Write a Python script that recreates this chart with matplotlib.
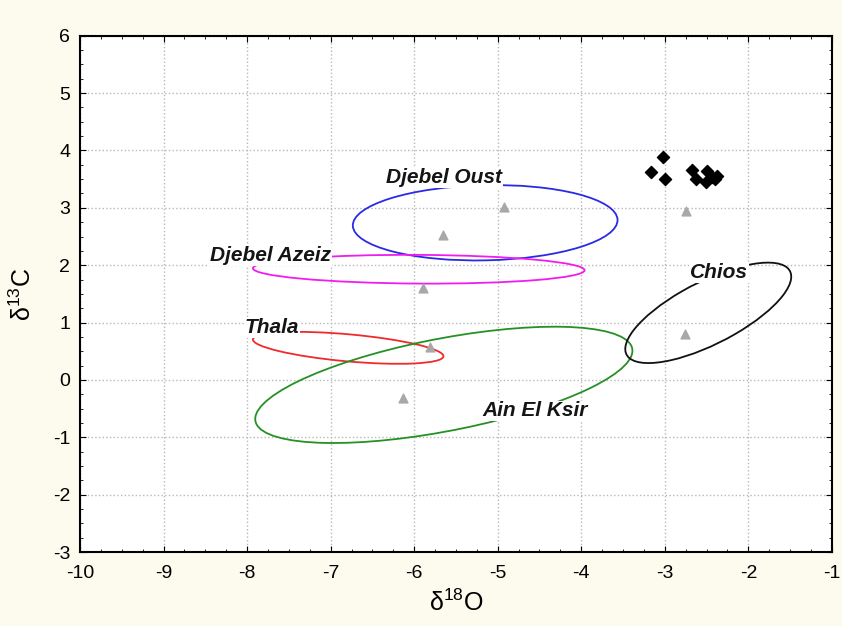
import matplotlib.pyplot as plt
from matplotlib.patches import Ellipse
from matplotlib.ticker import AutoMinorLocator

plt.rcParams['font.family'] = ['Liberation Sans', 'DejaVu Sans']
plt.rcParams['axes.unicode_minus'] = False
plt.rcParams['mathtext.fontset'] = 'custom'
plt.rcParams['mathtext.rm'] = 'Liberation Sans'

# samples (black diamonds)
sample_x = [-3.02, -3.17, -3.00, -2.67, -2.63, -2.49, -2.51, -2.44, -2.37, -2.40]
sample_y = [3.88, 3.62, 3.51, 3.66, 3.50, 3.64, 3.45, 3.53, 3.56, 3.51]

# group means (grey triangles)
mean_x = [-4.93, -5.65, -5.89, -6.13, -5.81, -2.76, -2.75]
mean_y = [3.01, 2.52, 1.61, -0.31, 0.58, 0.81, 2.94]

# confidence ellipses: name, centre, width, height, angle (data units)
names = ['Djebel Oust', 'Djebel Azeiz', 'Thala', 'Ain El Ksir', 'Chios']
centre_x = [-5.15, -5.945, -6.79, -5.645, -2.48]
centre_y = [2.74, 1.93, 0.56, -0.085, 1.17]
widths = [3.17, 3.97, 2.30, 4.69, 2.46]
heights = [1.31, 0.50, 0.47, 1.58, 0.98]
angles = [2.0, -0.5, -7.6, 16.7, 40.0]
colors = ['#2a2ae6', '#f01cf0', '#f02a2a', '#259125', '#111111']
label_x = [-5.64, -7.72, -7.7, -4.55, -2.35]
label_y = [3.52, 2.17, 0.91, -0.54, 1.87]

fig = plt.figure(figsize=(8.42, 6.26), dpi=100, facecolor='#fdfaee')
ax = fig.add_axes([0.095, 0.118, 0.893, 0.825])

for i in range(len(names)):
    e = Ellipse((centre_x[i], centre_y[i]), widths[i], heights[i], angle=angles[i],
                fill=False, edgecolor=colors[i], linewidth=1.3, zorder=3)
    ax.add_patch(e)
    ax.text(label_x[i], label_y[i], names[i], fontsize=15, fontstyle='italic',
            weight='bold', color='#151515', ha='center', va='center', zorder=5,
            bbox=dict(facecolor='white', edgecolor='none', pad=0.5))

ax.scatter(mean_x, mean_y, marker='^', s=40, color='#a8a8a8', zorder=4)
ax.scatter(sample_x, sample_y, marker='D', s=38, color='black', zorder=4)

ax.set_xlim(-10, -1)
ax.set_ylim(-3, 6)
ax.set_xticks(range(-10, 0))
ax.set_yticks(range(-3, 7))
ax.xaxis.set_minor_locator(AutoMinorLocator(4))
ax.yaxis.set_minor_locator(AutoMinorLocator(4))
ax.tick_params(which='both', direction='in', top=True, right=True, labelsize=14)
ax.tick_params(axis='x', which='major', length=4, pad=9)
ax.tick_params(axis='y', which='major', length=4, pad=7)
ax.tick_params(which='minor', length=2.5)
ax.grid(True, which='major', linestyle=':', color='#b8b8b8', linewidth=1)
for s in ax.spines.values():
    s.set_linewidth(1.5)

ax.set_xlabel('δ$^{\\mathregular{18}}$O', fontsize=18, labelpad=6)
ax.set_ylabel('δ$^{\\mathregular{13}}$C', fontsize=18, labelpad=12)

fig.savefig('out.png', dpi=100, facecolor=fig.get_facecolor())
